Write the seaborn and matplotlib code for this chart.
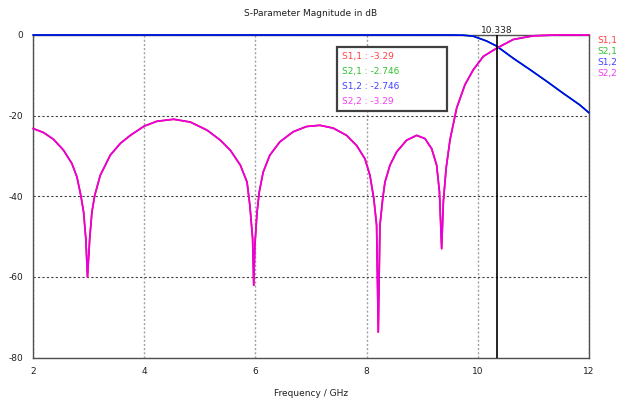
import matplotlib
matplotlib.use("Agg")
import matplotlib.pyplot as plt
import seaborn as sns
import pandas as pd
from matplotlib.patches import Rectangle

# ---- data ----
freq_refl = [2.00, 2.19, 2.37, 2.55, 2.70, 2.79, 2.86, 2.91, 2.95, 2.98, 3.02, 3.06, 3.11, 3.21,
             3.39, 3.57, 3.75, 4.00, 4.23, 4.53, 4.83, 5.13, 5.37, 5.55, 5.73, 5.85, 5.90, 5.95,
             5.97, 5.99, 6.03, 6.07, 6.14, 6.26, 6.44, 6.68, 6.92, 7.16, 7.40, 7.64, 7.82, 7.97,
             8.06, 8.13, 8.18, 8.21, 8.24, 8.29, 8.33, 8.42, 8.54, 8.72, 8.90, 9.05, 9.17, 9.26,
             9.31, 9.35, 9.38, 9.43, 9.50, 9.62, 9.77, 9.92, 10.10, 10.338, 10.64, 11.00, 11.40,
             12.00]
s22_db = [-23.2, -24.2, -25.9, -28.6, -31.9, -35.2, -39.8, -43.9, -50.5, -60.0, -50.5, -43.9, -39.8, -34.8,
          -29.8, -26.9, -24.9, -22.6, -21.4, -20.9, -21.6, -23.6, -26.1, -28.6, -32.3, -36.5, -42.2, -50.5,
          -62.1, -52.2, -43.9, -38.9, -34.0, -29.8, -26.5, -24.0, -22.7, -22.4, -23.1, -24.9, -27.4, -30.7,
          -34.8, -40.6, -47.2, -73.7, -47.2, -40.6, -36.5, -32.3, -29.0, -26.1, -24.9, -25.7, -28.2, -32.3,
          -38.9, -53.0, -41.4, -33.1, -26.0, -18.1, -12.3, -8.6, -5.3, -3.29, -1.1, -0.2, 0.0,
          0.0]
s11_db = list(s22_db)

freq_trans = [2.0, 9.5, 9.74, 9.92, 10.16, 10.338, 10.64, 10.94, 11.24, 11.53, 11.83, 12.0]
s12_db = [0.0, 0.0, -0.05, -0.3, -1.5, -2.746, -5.8, -8.6, -11.5, -14.4, -17.3, -19.3]
s21_db = list(s12_db)

series_names = ["S1,1", "S2,1", "S1,2", "S2,2"]
marker_freq = 10.338
marker_text = ["S1,1 : -3.29", "S2,1 : -2.746", "S1,2 : -2.746", "S2,2 : -3.29"]
x_ticks = [2, 4, 6, 8, 10, 12]
y_ticks = [0, -20, -40, -60, -80]

colors = {"S1,1": "#ff0000", "S2,1": "#00c000", "S1,2": "#0000ff", "S2,2": "#e600e6"}
text_colors = {"S1,1": "#ff4040", "S2,1": "#30c030", "S1,2": "#4040ff", "S2,2": "#f040f0"}

frames = []
for name, fx_, fy_ in [("S1,1", freq_refl, s11_db), ("S2,1", freq_trans, s21_db),
                       ("S1,2", freq_trans, s12_db), ("S2,2", freq_refl, s22_db)]:
    frames.append(pd.DataFrame({"freq": fx_, "dB": fy_, "series": name}))
df = pd.concat(frames, ignore_index=True)

sns.set_style("white")
plt.rcParams["font.family"] = ["DejaVu Sans"]
fs = 6.5

fig = plt.figure(figsize=(6.30, 4.05), dpi=100)
ax = fig.add_axes([33 / 630, 1 - 357.5 / 405, (589 - 33) / 630, (357.5 - 35) / 405])

sns.lineplot(data=df, x="freq", y="dB", hue="series", hue_order=series_names,
             palette=colors, estimator=None, sort=False, linewidth=1.2, legend=False, ax=ax)
for ln in ax.lines:
    ln.set_clip_on(False)
    ln.set_zorder(4)

ax.set_xlim(2, 12)
ax.set_ylim(-80, 0)
ax.set_xticks(x_ticks)
ax.set_yticks(y_ticks)
ax.set_xticklabels([str(t) for t in x_ticks], fontsize=fs, color="#202020")
ax.set_yticklabels([str(t) for t in y_ticks], fontsize=fs, color="#202020")
ax.tick_params(axis="both", direction="out", length=4, width=0.8, color="#404040", pad=3)

ax.xaxis.grid(True, linestyle=(0, (1.5, 1.5)), color="#a0a0a0", linewidth=1.0)
ax.yaxis.grid(True, linestyle=(0, (2, 2)), color="#404040", linewidth=0.8)
ax.set_axisbelow(True)

for side in ["left", "bottom", "right", "top"]:
    ax.spines[side].set_visible(True)
    ax.spines[side].set_color("#505050")
    ax.spines[side].set_linewidth(1.0)

ax.set_title("S-Parameter Magnitude in dB", fontsize=fs, color="#202020", pad=14)
ax.set_xlabel("Frequency / GHz", fontsize=fs, color="#202020", labelpad=9)
ax.set_ylabel("")

# marker line
ax.axvline(marker_freq, color="black", linewidth=1.2, zorder=5)
ax.text(marker_freq, 1.0, str(marker_freq), transform=ax.get_xaxis_transform(),
        ha="center", va="bottom", fontsize=fs, color="#202020", clip_on=False)


def fx(px):
    return px / 630


def fy(py):
    return 1 - py / 405


# marker readout box
box = Rectangle((fx(337), fy(111)), fx(447) - fx(337), fy(47.5) - fy(111),
                transform=fig.transFigure, facecolor="white", edgecolor="#404040",
                linewidth=1.6, zorder=10)
fig.patches.append(box)
for i, (name, txt) in enumerate(zip(series_names, marker_text)):
    fig.text(fx(342), fy(57 + 14.8 * i), txt, fontsize=fs, color=text_colors[name],
             ha="left", va="center", zorder=11)

# right-side series labels
for i, name in enumerate(series_names):
    fig.text(fx(597), fy(40 + 11.2 * i), name, fontsize=fs, color=text_colors[name],
             ha="left", va="center")

fig.savefig("out.png", dpi=100)
